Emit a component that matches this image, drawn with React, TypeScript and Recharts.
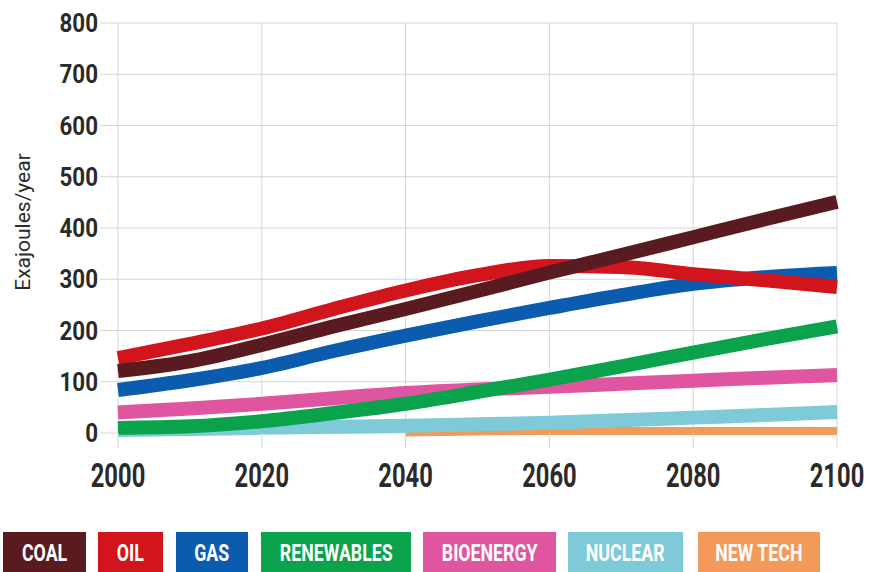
import React from "react";
import { LineChart, Line, XAxis, YAxis, CartesianGrid } from "recharts";

const years = [2000, 2010, 2020, 2030, 2040, 2050, 2060, 2070, 2080, 2090, 2100];
const coal = [121, 140, 172, 208, 242, 277, 313, 347, 382, 417, 451];
const oil = [146, 174, 204, 242, 278, 308, 326, 324, 310, 298, 285];
const gas = [84, 103, 127, 160, 190, 218, 244, 269, 291, 304, 312];
const renewables = [10, 13, 23, 39, 57, 80, 104, 130, 157, 183, 208];
const bioenergy = [40, 48, 57, 68, 78, 85, 90, 96, 102, 108, 113];
const nuclear = [6, 8, 10, 12, 14, 17, 20, 25, 30, 35, 41];
const newTech = [null, null, null, null, 1, 3, 4, 4, 4, 4, 4];

const yTicks = [0, 100, 200, 300, 400, 500, 600, 700, 800];
const xTicks = [2000, 2020, 2040, 2060, 2080, 2100];

const seriesNames = ["COAL", "OIL", "GAS", "RENEWABLES", "BIOENERGY", "NUCLEAR", "NEW TECH"];
const seriesKeys = ["coal", "oil", "gas", "renewables", "bioenergy", "nuclear", "newTech"];
const seriesColors = ["#5a1b20", "#d2151d", "#0b5cae", "#0ba24c", "#e0559f", "#7fcad8", "#f3995a"];
const legendWidths = [83, 65, 72, 150, 133, 115, 122];
const legendGaps = [0, 12, 13, 13, 12, 12, 15];

const data = years.map((y, i) => ({
  year: y,
  coal: coal[i],
  oil: oil[i],
  gas: gas[i],
  renewables: renewables[i],
  bioenergy: bioenergy[i],
  nuclear: nuclear[i],
  newTech: newTech[i],
}));

const FONT = "Roboto, sans-serif";

// draw order: bottom first
const drawOrder = [6, 5, 4, 3, 2, 1, 0];

const XTick = (props: any) => {
  const { x, y, payload } = props;
  return (
    <g transform={`translate(${x},${y})`}>
      <text
        transform="scale(0.72,1)"
        x={0}
        y={29}
        textAnchor="middle"
        fill="#2a2a2a"
        fontSize={33}
        fontWeight={700}
        fontFamily={FONT}
      >
        {payload.value}
      </text>
    </g>
  );
};

const YTick = (props: any) => {
  const { x, y, payload } = props;
  return (
    <g transform={`translate(${x},${y})`}>
      <text
        transform="scale(0.86,1)"
        x={0}
        y={9}
        textAnchor="end"
        fill="#2a2a2a"
        fontSize={26}
        fontWeight={700}
        fontFamily={FONT}
      >
        {payload.value}
      </text>
    </g>
  );
};

export default function App() {
  return (
    <div style={{ position: "absolute", left: 0, top: 0, width: 869, height: 572, background: "#fff", overflow: "hidden" }}>
      <LineChart width={869} height={520} data={data} margin={{ top: 23, right: 32, left: 0, bottom: 0 }}>
        <CartesianGrid stroke="#d6d6d6" strokeWidth={1} />
        <XAxis
          dataKey="year"
          type="number"
          domain={[2000, 2100]}
          ticks={xTicks}
          axisLine={false}
          tickSize={15}
          tickLine={{ stroke: "#d6d6d6" }}
          tickMargin={10}
          height={87}
          tick={<XTick />}
        />
        <YAxis
          type="number"
          domain={[0, 800]}
          ticks={yTicks}
          width={118}
          axisLine={false}
          tickSize={18}
          tickLine={{ stroke: "#d6d6d6" }}
          tickMargin={2}
          tick={<YTick />}
          label={{
            content: (props: any) => {
              const vb = props.viewBox || {};
              const cx = 24;
              const cy = (vb.y ?? 23) + (vb.height ?? 410) / 2 - 6;
              return (
                <text
                  x={cx}
                  y={cy}
                  transform={`rotate(-90, ${cx}, ${cy})`}
                  textAnchor="middle"
                  dominantBaseline="middle"
                  fill="#2a2a2a"
                  fontSize={21}
                  fontFamily={FONT}
                >
                  Exajoules/year
                </text>
              );
            },
          }}
        />
        {drawOrder.map((i) => (
          <Line
            key={seriesKeys[i]}
            dataKey={seriesKeys[i]}
            name={seriesNames[i]}
            type="monotone"
            stroke={seriesColors[i]}
            strokeWidth={i === 6 ? 8 : 14}
            dot={false}
            activeDot={false}
            isAnimationActive={false}
          />
        ))}
      </LineChart>
      <div style={{ position: "absolute", left: 3, top: 532, display: "flex" }}>
        {seriesNames.map((n, i) => (
          <div
            key={n}
            style={{
              marginLeft: legendGaps[i],
              width: legendWidths[i],
              height: 44,
              background: seriesColors[i],
              color: "#fff",
              fontFamily: FONT,
              fontWeight: 700,
              fontSize: 24,
              display: "flex",
              alignItems: "center",
              justifyContent: "center",
              paddingBottom: 2,
              boxSizing: "border-box",
              overflow: "hidden",
            }}
          >
            <span style={{ display: "inline-block", transform: "scaleX(0.74)", whiteSpace: "nowrap" }}>{n}</span>
          </div>
        ))}
      </div>
    </div>
  );
}
